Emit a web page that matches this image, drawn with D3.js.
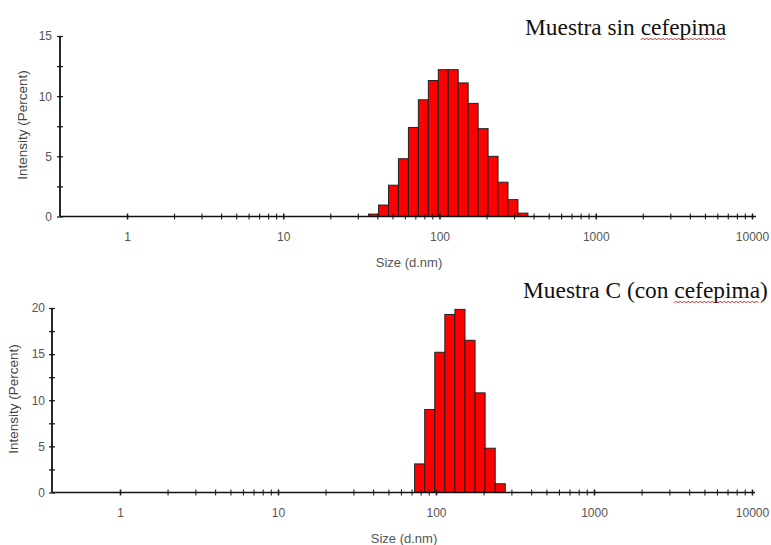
<!DOCTYPE html>
<html>
<head>
<meta charset="utf-8">
<script src="https://cdn.jsdelivr.net/npm/d3@7"></script>
<style>
  html, body { margin: 0; padding: 0; background: #fff; }
  svg { display: block; }
  .tick text { font-family: "Liberation Sans", Arial, sans-serif; font-size: 12px; fill: #555; }
</style>
</head>
<body>
<div id="chart"></div>
<script>
// Zetasizer size classes (d.nm) around the measured peaks
const sizeClasses = [32.67, 37.84, 43.82, 50.75, 58.77, 68.06, 78.82, 91.28, 105.7,
  122.4, 141.8, 164.2, 190.1, 220.2, 255.0, 295.3, 342.0, 396.1]

// intensity (percent) per size class
const intensitySinCefepima = [0, 0.2, 0.95, 2.6, 4.8, 7.4, 9.7, 11.3, 12.2,
  12.2, 11.1, 9.4, 7.3, 5.0, 2.85, 1.4, 0.28, 0]
const intensityConCefepima = [0, 0, 0, 0, 0, 0, 3.1, 9.0, 15.2,
  19.3, 19.85, 16.5, 10.8, 4.8, 0.95, 0, 0, 0]

const xTickLabels = [1, 10, 100, 1000, 10000]
const yTicksTop = [0, 2.5, 5, 7.5, 10, 12.5, 15]
const yTicksBottom = [0, 2.5, 5, 7.5, 10, 12.5, 15, 17.5, 20]
const yTickLabels = [0, 5, 10, 15, 20]

const titles = ['Muestra sin cefepima', 'Muestra C (con cefepima)']
const xTitle = 'Size (d.nm)'
const yTitle = 'Intensity (Percent)'

const W = 771
const H = 545

const svg = d3.select('#chart')
  .append('svg')
  .attr('width', W)
  .attr('height', H)

const panels = [
  {
    values: intensitySinCefepima, yTicks: yTicksTop, title: titles[0],
    left: 60, right: 756, top: 36, base: 216.5, x1: 127, x10k: 752,
    labelPad: 8, titleX: 525, titleY: 35,
    xLabelX: 409, xLabelY: 267, yLabelX: 22, yLabelY: 125
  },
  {
    values: intensityConCefepima, yTicks: yTicksBottom, title: titles[1],
    left: 52, right: 755, top: 308, base: 492.5, x1: 120, x10k: 752,
    labelPad: 7, titleX: 523, titleY: 298,
    xLabelX: 404, xLabelY: 543, yLabelX: 13, yLabelY: 399
  }
]

function binEdges (i) {
  const s = sizeClasses
  const lo = i > 0 ? Math.sqrt(s[i - 1] * s[i]) : s[i] * s[i] / Math.sqrt(s[i] * s[i + 1])
  const hi = i < s.length - 1 ? Math.sqrt(s[i] * s[i + 1]) : s[i] * s[i] / Math.sqrt(s[i - 1] * s[i])
  return [lo, hi]
}

function drawPanel (p) {
  const g = svg.append('g')

  const x = d3.scaleLog([1, 10000], [p.x1, p.x10k])
  const yMax = d3.max(p.yTicks)
  const y = d3.scaleLinear([0, yMax], [p.base, p.top])

  const bars = p.values
    .map((v, i) => ({ v, edges: binEdges(i) }))
    .filter(d => d.v > 0)

  g.append('g')
    .selectAll('rect')
    .data(bars)
    .join('rect')
    .attr('x', d => x(d.edges[0]))
    .attr('width', d => x(d.edges[1]) - x(d.edges[0]))
    .attr('y', d => y(d.v))
    .attr('height', d => y(0) - y(d.v))
    .attr('fill', '#ff0000')
    .attr('stroke', '#222')
    .attr('stroke-width', 1)

  // x axis
  const xAxis = g.append('g')
    .attr('transform', `translate(0, ${p.base})`)
    .call(d3.axisBottom(x)
      .tickValues(x.ticks())
      .tickSizeInner(3)
      .tickSizeOuter(0)
      .tickPadding(13)
      .tickFormat(d => xTickLabels.includes(d) ? d : ''))
  xAxis.select('.domain').remove()
  xAxis.selectAll('.tick line')
    .attr('y1', -3)
    .attr('stroke', '#222')
    .attr('stroke-width', d => xTickLabels.includes(d) ? 1.6 : 1.1)

  g.append('line')
    .attr('x1', p.left).attr('x2', p.right)
    .attr('y1', p.base).attr('y2', p.base)
    .attr('stroke', '#111')
    .attr('stroke-width', 1.6)

  // y axis
  const yAxis = g.append('g')
    .attr('transform', `translate(${p.left}, 0)`)
    .call(d3.axisLeft(y)
      .tickValues(p.yTicks)
      .tickSizeInner(3)
      .tickSizeOuter(0)
      .tickPadding(p.labelPad - 3)
      .tickFormat(d => yTickLabels.includes(d) ? d : ''))
  yAxis.select('.domain').remove()
  yAxis.selectAll('.tick line')
    .attr('x2', 3)
    .attr('x1', -3)
    .attr('stroke', '#222')
    .attr('stroke-width', 1.3)

  g.append('line')
    .attr('x1', p.left).attr('x2', p.left)
    .attr('y1', p.top).attr('y2', p.base)
    .attr('stroke', '#111')
    .attr('stroke-width', 1.8)

  // axis titles
  g.append('text')
    .attr('x', p.xLabelX)
    .attr('y', p.xLabelY)
    .attr('text-anchor', 'middle')
    .style('font-family', '"Liberation Sans", Arial, sans-serif')
    .style('font-size', '13px')
    .style('fill', '#555')
    .text(xTitle)

  g.append('text')
    .attr('transform', `translate(${p.yLabelX}, ${p.yLabelY}) rotate(-90)`)
    .attr('text-anchor', 'middle')
    .attr('dy', '0.35em')
    .style('font-family', '"Liberation Sans", Arial, sans-serif')
    .style('font-size', '13.5px')
    .style('fill', '#444')
    .text(yTitle)

  // panel title with spell-check underline under "cefepima"
  const title = g.append('text')
    .attr('x', p.titleX)
    .attr('y', p.titleY)
    .style('font-family', '"Liberation Serif", "Times New Roman", serif')
    .style('font-size', '23.4px')
    .style('fill', '#111')
    .text(p.title)

  const node = title.node()
  const word = 'cefepima'
  const idx = p.title.indexOf(word)
  const start = p.titleX + node.getSubStringLength(0, idx)
  const len = node.getSubStringLength(idx, word.length)
  const wy = p.titleY + 4
  const pts = []
  for (let k = 0; k * 2 <= len; k++) {
    pts.push([start + k * 2, wy + (k % 2 === 0 ? 1 : -1)])
  }
  g.append('path')
    .attr('d', d3.line()(pts))
    .attr('fill', 'none')
    .attr('stroke', '#e02020')
    .attr('stroke-width', 1)
}

panels.forEach(drawPanel)
</script>
</body>
</html>
